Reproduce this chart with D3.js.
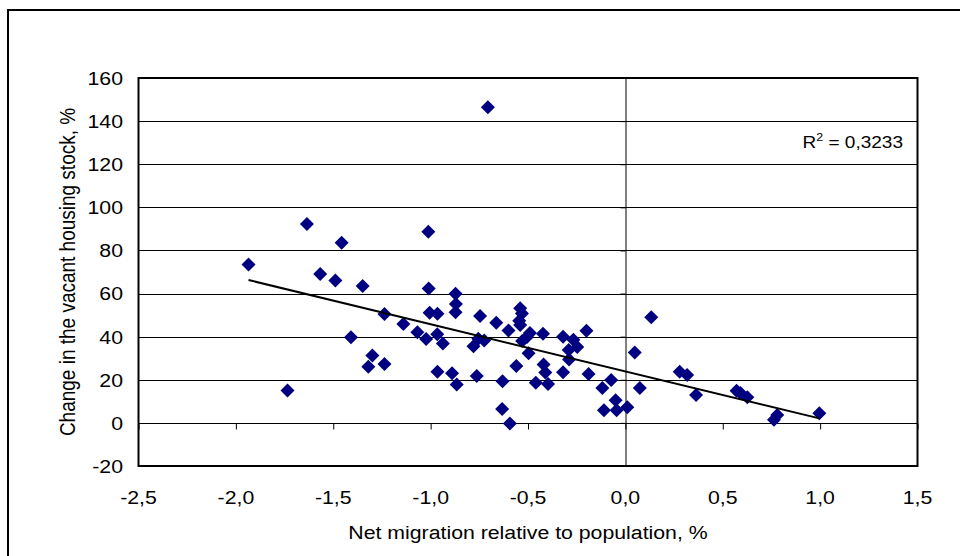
<!DOCTYPE html>
<html>
<head>
<meta charset="utf-8">
<script src="https://cdn.jsdelivr.net/npm/d3@7/dist/d3.min.js"></script>
<style>
  body { margin: 0; background: #fff; }
  text { font-family: "Liberation Sans", Arial, sans-serif; fill: #000; }
</style>
</head>
<body>
<div id="chart"></div>
<script>
// net migration relative to population, %
const migration = [
  -1.935, -1.735, -1.635, -1.567, -1.489, -1.457, -1.409, -1.349, -1.320, -1.299,
  -1.237, -1.237, -1.140, -1.068, -1.023, -1.012, -1.010, -1.005, -0.965, -0.966,
  -0.937, -0.965, -0.890, -0.866, -0.872, -0.870, -0.872, -0.706, -0.780, -0.755,
  -0.725, -0.746, -0.763, -0.663, -0.631, -0.633, -0.593, -0.600, -0.560, -0.540,
  -0.531, -0.545, -0.540, -0.530, -0.490, -0.505, -0.497, -0.460, -0.423, -0.420,
  -0.411, -0.397, -0.320, -0.320, -0.267, -0.247, -0.291, -0.289, -0.200, -0.189,
  -0.118, -0.073, -0.110, -0.050, -0.045, 0.010, 0.048, 0.074, 0.133, 0.279,
  0.317, 0.363, 0.571, 0.591, 0.626, 0.780, 0.763, 0.996
];
// change in the vacant housing stock, %
const vacantChange = [
  73.5, 15.0, 92.3, 69.1, 66.0, 83.6, 39.7, 63.5, 26.1, 31.3,
  27.3, 50.5, 45.9, 42.0, 38.9, 88.7, 62.4, 51.1, 50.6, 41.1,
  36.8, 23.7, 23.0, 17.8, 59.9, 55.1, 51.3, 146.4, 35.5, 39.0,
  38.2, 49.6, 21.8, 46.4, 19.3, 6.5, -0.3, 42.9, 26.4, 53.2,
  50.8, 47.4, 45.4, 38.0, 41.7, 39.8, 32.3, 18.6, 41.3, 27.1,
  23.4, 18.0, 40.0, 23.5, 38.6, 35.2, 33.8, 29.4, 42.7, 22.7,
  16.2, 19.9, 5.9, 10.5, 5.9, 7.2, 32.7, 16.2, 49.0, 23.7,
  22.2, 12.9, 14.9, 13.9, 11.9, 3.7, 1.4, 4.5
];
// linear trend
const trendRange = [-1.935, 0.996];
const trendSlope = -21.9;
const trendIntercept = 23.9;
const rSquared = "0,3233";

const xTicks = [-2.5, -2.0, -1.5, -1.0, -0.5, 0.0, 0.5, 1.0, 1.5];
const yTicks = [-20, 0, 20, 40, 60, 80, 100, 120, 140, 160];

const width = 960, height = 556;
const plot = { left: 138.5, top: 78, right: 917.5, bottom: 466 };
const fontSize = '19px';
const stretch = 1.12; // the reference text is a bit wider than plain Arial

const svg = d3.select('#chart').append('svg')
  .attr('width', width)
  .attr('height', height);

// outer chart border (continues past the right and bottom edges)
svg.append('rect')
  .attr('x', 8).attr('y', 10)
  .attr('width', 1000).attr('height', 600)
  .attr('fill', 'none').attr('stroke', '#000').attr('stroke-width', 2);

const x = d3.scaleLinear().domain([-2.5, 1.5]).range([plot.left, plot.right]);
const y = d3.scaleLinear().domain([-20, 160]).range([plot.bottom, plot.top]);
const fmt = d => d3.format('.1f')(d).replace('.', ',').replace('−', '-');
const place = (px, py) => 'translate(' + px + ',' + py + ') scale(' + stretch + ',1)';

// horizontal gridlines
svg.append('g')
  .selectAll('line')
  .data(yTicks)
  .enter().append('line')
  .attr('x1', plot.left).attr('x2', plot.right)
  .attr('y1', d => Math.round(y(d)) + 0.5).attr('y2', d => Math.round(y(d)) + 0.5)
  .attr('stroke', '#000').attr('stroke-width', 1);

// y axis at x = 0
const yAxisG = svg.append('g')
  .attr('transform', 'translate(' + (Math.round(x(0)) + 0.5) + ',0)')
  .call(d3.axisLeft(y).tickValues(yTicks).tickSize(5).tickFormat(''));
yAxisG.select('.domain').attr('stroke', '#000');

// x axis at y = 0
const xAxisG = svg.append('g')
  .attr('transform', 'translate(0,' + (Math.round(y(0)) + 0.5) + ')')
  .call(d3.axisBottom(x).tickValues(xTicks).tickSize(6).tickSizeOuter(0).tickFormat(''));
xAxisG.select('.domain').remove();

// plot area frame
svg.append('rect')
  .attr('x', plot.left).attr('y', plot.top)
  .attr('width', plot.right - plot.left).attr('height', plot.bottom - plot.top)
  .attr('fill', 'none').attr('stroke', '#000').attr('stroke-width', 2);

// tick labels
svg.append('g')
  .selectAll('text')
  .data(yTicks)
  .enter().append('text')
  .attr('transform', d => place(123, y(d)))
  .attr('dy', '0.36em')
  .attr('text-anchor', 'end')
  .style('font-size', fontSize)
  .text(d => d);

svg.append('g')
  .selectAll('text')
  .data(xTicks)
  .enter().append('text')
  .attr('transform', d => place(x(d), 504))
  .attr('text-anchor', 'middle')
  .style('font-size', fontSize)
  .text(fmt);

// axis titles
svg.append('text')
  .attr('transform', place((plot.left + plot.right) / 2, 539))
  .attr('text-anchor', 'middle')
  .style('font-size', fontSize)
  .text('Net migration relative to population, %');

svg.append('text')
  .attr('transform', place(75, (plot.top + plot.bottom) / 2) + ' rotate(-90)')
  .attr('text-anchor', 'middle')
  .style('font-size', fontSize)
  .text('Change in the vacant housing stock, %');

// points
const points = migration.map((m, i) => ({ x: m, y: vacantChange[i] }));
svg.append('g')
  .selectAll('path')
  .data(points)
  .enter().append('path')
  .attr('transform', d => 'translate(' + x(d.x) + ',' + y(d.y) + ')')
  .attr('d', 'M0,-7L7,0L0,7L-7,0Z')
  .attr('fill', '#000080');

// trend line
const trend = trendRange.map(v => ({ x: v, y: trendIntercept + trendSlope * v }));
svg.append('path')
  .datum(trend)
  .attr('d', d3.line().x(d => x(d.x)).y(d => y(d.y)))
  .attr('fill', 'none').attr('stroke', '#000').attr('stroke-width', 2);

// R squared label
const r2 = svg.append('text')
  .attr('transform', place(903, 148))
  .attr('text-anchor', 'end')
  .style('font-size', '17px');
r2.append('tspan').text('R');
r2.append('tspan').attr('dy', -7).style('font-size', '11px').text('2');
r2.append('tspan').attr('dy', 7).text(' = ' + rSquared);
</script>
</body>
</html>
